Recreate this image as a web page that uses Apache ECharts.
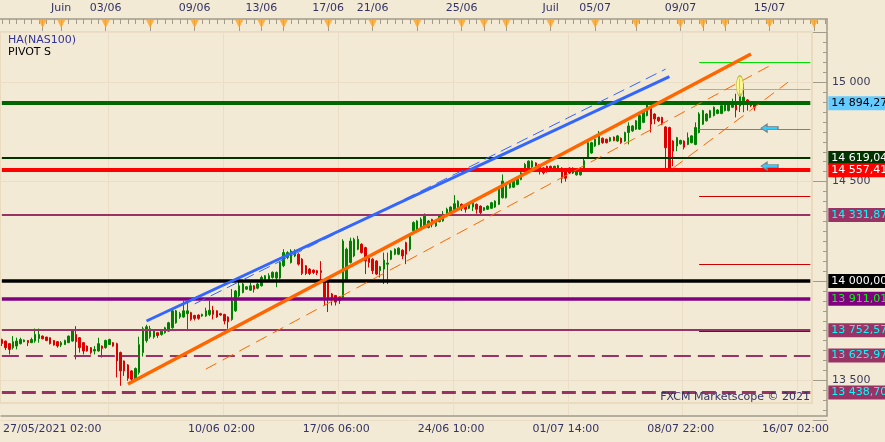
<!DOCTYPE html>
<html>
<head>
<meta charset="utf-8">
<script src="https://cdn.jsdelivr.net/npm/echarts@6/dist/echarts.min.js"></script>
<style>
  html, body { margin: 0; padding: 0; background: #F3EAD5; }
  #chart { width: 885px; height: 442px; }
</style>
</head>
<body>
<div id="chart"></div>
<script>
var FONT = 'DejaVu Sans';
var BG = '#F3EAD5';

// HA(NAS100) 4h candles : [open, close, low, high]
var candles = [
  [13706,13686,13673,13710],[13698,13665,13653,13700],[13685,13656,13631,13688],[13665,13695,13656,13723],
  [13673,13698,13656,13715],[13685,13706,13681,13715],[13695,13703,13692,13706],[13701,13690,13673,13703],
  [13690,13706,13688,13715],[13698,13731,13690,13761],[13711,13731,13690,13761],[13723,13710,13706,13726],
  [13718,13701,13698,13720],[13715,13685,13681,13716],[13701,13678,13675,13703],[13695,13673,13665,13697],
  [13678,13690,13668,13698],[13681,13701,13678,13705],[13690,13723,13688,13726],[13698,13751,13695,13755],
  [13731,13695,13606,13773],[13715,13665,13640,13718],[13690,13648,13631,13693],[13673,13648,13645,13676],
  [13665,13640,13631,13668],[13648,13656,13631,13673],[13648,13685,13645,13715],[13673,13661,13615,13676],
  [13665,13701,13660,13705],[13681,13706,13678,13710],[13690,13673,13670,13693],[13685,13598,13515,13690],
  [13640,13548,13473,13645],[13598,13548,13523,13600],[13578,13511,13498,13582],[13548,13506,13490,13552],
  [13510,13560,13500,13565],[13540,13680,13530,13720],[13640,13760,13620,13770],[13700,13770,13690,13780],
  [13720,13760,13710,13775],[13718,13748,13710,13755],[13740,13726,13714,13743],[13731,13748,13725,13752],
  [13740,13765,13735,13770],[13748,13790,13745,13795],[13765,13850,13760,13858],[13790,13850,13785,13855],
  [13819,13836,13810,13845],[13819,13850,13815,13900],[13836,13850,13748,13892],[13841,13807,13800,13845],
  [13827,13812,13802,13830],[13829,13812,13805,13832],[13824,13832,13820,13836],[13824,13850,13820,13866],
  [13832,13853,13824,13900],[13853,13832,13807,13875],[13850,13819,13815,13853],[13836,13829,13825,13840],
  [13832,13799,13782,13835],[13819,13795,13760,13822],[13807,13900,13800,13960],[13850,13950,13845,13955],
  [13925,13976,13917,14001],[13942,13985,13938,13990],[13959,13971,13955,13975],[13954,13976,13950,13993],
  [13976,13959,13942,13980],[13964,13985,13959,13993],[13976,14018,13972,14027],[14001,14027,13997,14030],
  [14005,14027,14000,14039],[14018,14044,14012,14048],[14015,14043,13969,14048],[14015,14093,14010,14100],
  [14077,14143,14070,14160],[14118,14143,14110,14150],[14093,14151,14088,14160],[14126,14151,14120,14160],
  [14135,14085,14078,14140],[14110,14038,14030,14115],[14077,14038,14030,14080],[14060,14038,14030,14065],
  [14055,14043,14035,14058],[14052,14040,14030,14056],[14052,14043,14010,14100],[14002,13919,13877,14010],
  [14002,13911,13844,14008],[13935,13902,13877,13940],[13927,13894,13877,13930],[13919,13902,13885,13922],
  [13919,14201,13915,14210],[14002,14160,13995,14168],[14093,14201,14088,14218],[14126,14210,14120,14218],
  [14160,14210,14155,14227],[14185,14143,14138,14190],[14168,14101,14035,14172],[14126,14093,14068,14130],
  [14110,14052,14035,14115],[14101,14035,14030,14105],[14052,14072,14018,14076],[14060,14105,13985,14143],
  [14085,14090,13985,14143],[14110,14151,14105,14155],[14135,14160,14130,14164],[14135,14165,14130,14170],
  [14155,14126,14110,14160],[14193,14135,14085,14198],[14160,14230,14150,14240],[14252,14294,14245,14300],
  [14255,14302,14250,14306],[14269,14311,14262,14320],[14277,14327,14270,14340],[14269,14302,14265,14306],
  [14310,14285,14270,14313],[14277,14302,14272,14306],[14299,14327,14295,14330],[14302,14336,14298,14352],
  [14327,14361,14322,14369],[14336,14372,14330,14376],[14352,14389,14348,14432],[14369,14402,14365,14406],
  [14386,14366,14352,14390],[14377,14361,14344,14380],[14366,14386,14362,14390],[14372,14394,14352,14402],
  [14386,14361,14339,14390],[14377,14344,14336,14380],[14356,14369,14352,14372],[14361,14377,14357,14380],
  [14366,14394,14362,14398],[14372,14402,14368,14406],[14386,14461,14382,14465],[14419,14503,14415,14536],
  [14419,14486,14415,14490],[14469,14494,14465,14498],[14472,14503,14468,14507],[14486,14519,14482,14523],
  [14511,14544,14507,14548],[14553,14586,14549,14594],[14569,14603,14565,14607],[14573,14603,14569,14607],
  [14594,14573,14569,14597],[14586,14561,14536,14589],[14569,14544,14536,14572],[14577,14551,14545,14580],
  [14577,14560,14555,14580],[14568,14577,14563,14580],[14565,14580,14560,14584],[14568,14517,14492,14572],
  [14551,14517,14500,14555],[14568,14543,14538,14572],[14543,14568,14538,14572],[14534,14560,14530,14564],
  [14534,14568,14530,14572],[14560,14605,14555,14619],[14619,14696,14615,14704],[14644,14696,14640,14700],
  [14679,14713,14675,14717],[14687,14730,14683,14755],[14718,14696,14690,14722],[14713,14696,14692,14716],
  [14704,14721,14700,14725],[14724,14707,14703,14727],[14704,14730,14700,14734],[14718,14696,14690,14722],
  [14704,14747,14700,14751],[14747,14780,14687,14798],[14755,14780,14750,14784],[14764,14806,14760,14810],
  [14764,14832,14760,14836],[14798,14857,14794,14861],[14832,14891,14828,14905],[14874,14789,14747,14878],
  [14840,14815,14789,14844],[14823,14806,14800,14826],[14823,14789,14784,14826],[14775,14670,14568,14779],
  [14772,14568,14560,14776],[14704,14653,14577,14708],[14679,14721,14653,14725],[14690,14707,14686,14711],
  [14704,14673,14662,14708],[14687,14721,14683,14747],[14696,14730,14692,14734],[14687,14772,14683,14798],
  [14747,14840,14743,14849],[14789,14857,14785,14861],[14806,14840,14802,14844],[14823,14857,14819,14861],
  [14832,14874,14828,14878],[14843,14860,14839,14864],[14843,14882,14839,14886],[14857,14900,14853,14904],
  [14857,14891,14853,14895],[14874,14900,14870,14917],[14900,14860,14823,14942],[14880,14942,14850,15018],
  [14890,14925,14849,14993],[14911,14894,14857,14915],[14900,14882,14875,14904],[14894,14874,14857,14898]
];

// pivot levels with price boxes
var pivotValues = [14894.27, 14619.04, 14557.41, 14331.87, 14000.00, 13911.01, 13752.57, 13625.97, 13438.70];
var pivotColors = ['#006600', '#003300', '#ff0000', '#993366', '#000000', '#800080', '#993366', '#993366', '#993366'];
var pivotBoxes = ['#66ccff', '#003300', '#ff0000', '#993366', '#000000', '#800080', '#993366', '#993366', '#993366'];
var pivotTexts = ['#000000', '#ffffff', '#ffffff', '#00ffff', '#ffffff', '#00ff00', '#00ffff', '#00ffff', '#00ffff'];
var pivotWidths = [4, 2, 4, 2, 3.5, 3.5, 2, 2, 3];
var pivotTypes = ['solid', 'solid', 'solid', 'solid', 'solid', 'solid', 'solid', [17, 7], [14, 6]];

// short levels on the right part
var shortValues = [15101, 14966, 14764, 14428, 14084, 13746];
var shortColors = ['#00dd00', '#33ff33', '#808080', '#cc0000', '#cc0000', '#990000'];

// trend lines : [startIdx, startVal, endIdx, endVal]
var blueLine = [39, 13799, 180, 15028];
var blueDash = [52, 13885, 179, 15066];
var orangeLine = [34, 13482, 202, 15142];
var orangeDash1 = [55, 13557, 208, 15092];
var orangeDash2 = [181, 14568, 212, 15000];

var arrowLevels = [14769, 14578];
var spikeLevel = 14982;

// time axes
var nCats = 223;
var topLabels = ['Juin', '03/06', '09/06', '13/06', '17/06', '21/06', '25/06', 'Juil', '05/07', '09/07', '15/07'];
var topLabelIdx = [16, 28, 52, 70, 88, 100, 124, 148, 160, 183, 207];
var dayMarks = [11, 16, 28, 40, 52, 64, 70, 76, 88, 100, 112, 124, 130, 136, 148, 160, 171, 183, 189, 195, 207, 219];
var bottomLabels = ['27/05/2021 02:00', '10/06 02:00', '17/06 06:00', '24/06 10:00', '01/07 14:00', '08/07 22:00', '16/07 02:00'];
var bottomLabelIdx = [0, 59, 90, 121, 152, 183, 214];

var cats = [], topCats = [], bottomCats = [];
for (var i = 0; i < nCats; i++) { cats.push(String(i)); topCats.push(''); bottomCats.push(''); }
topLabelIdx.forEach(function (k, j) { topCats[k] = topLabels[j]; });
bottomLabelIdx.forEach(function (k, j) { bottomCats[k] = bottomLabels[j]; });

function fmt(v, dec) {
  var s = v.toFixed(dec).split('.');
  var ip = s[0].replace(/\B(?=(\d{3})+(?!\d))/g, ' ');
  return dec ? ip + ',' + s[1] : ip;
}

var lastIdx = 218;
var markLines = [];
pivotValues.forEach(function (v, i) {
  markLines.push([
    { coord: [0, v], lineStyle: { color: pivotColors[i], width: pivotWidths[i], type: pivotTypes[i] },
      label: { show: true, position: 'end', distance: 18, formatter: fmt(v, 2),
        backgroundColor: pivotBoxes[i], color: pivotTexts[i], padding: [2, 3, 1, 3],
        fontSize: 11, fontFamily: FONT } },
    { coord: [lastIdx, v] }
  ]);
});
shortValues.forEach(function (v, i) {
  markLines.push([
    { coord: [188, v], lineStyle: { color: shortColors[i], width: 1.2, type: 'solid' } },
    { coord: [lastIdx, v] }
  ]);
});
function trend(t, color, width, type) {
  markLines.push([
    { coord: [t[0], t[1]], lineStyle: { color: color, width: width, type: type } },
    { coord: [t[2], t[3]] }
  ]);
}
trend(blueDash, '#3366ff', 1, [12, 6]);
trend(blueLine, '#3366ff', 3, 'solid');
trend(orangeDash1, '#ff6600', 1, [12, 7]);
trend(orangeDash2, '#ff6600', 1, [12, 7]);
trend(orangeLine, '#ff6600', 3.5, 'solid');

var arrowPath = 'path://M0,5L7,0L7,3L20,3L20,7L7,7L7,10Z';
var markPoints = arrowLevels.map(function (v) {
  return { coord: [207, v], symbol: arrowPath, symbolSize: [17, 8],
    itemStyle: { color: '#33ccff', borderColor: '#808080', borderWidth: 1 } };
});
markPoints.push({ coord: [199, spikeLevel], symbol: 'circle', symbolSize: [7, 20],
  itemStyle: { color: 'rgba(255,255,120,0.7)', borderColor: '#bdbd4a', borderWidth: 1 } });

var axisCol = '#a29a8a';
var textCol = '#333366';
var bottomTickMinor = [0, 4, 8, 12, 16, 19, 23, 27];
function bottomR(idx) { return ((idx - 29) % 31 + 31) % 31; }

var chart = echarts.init(document.getElementById('chart'), null, { renderer: 'canvas' });

var option = {
  animation: false,
  backgroundColor: BG,
  title: [
    { text: 'HA(NAS100)', subtext: 'PIVOT S', left: 3, top: 30, itemGap: 1,
      textStyle: { fontSize: 11, fontWeight: 'normal', color: '#333399', fontFamily: FONT },
      subtextStyle: { fontSize: 11, color: '#000000', fontFamily: FONT } },
    { text: 'FXCM Marketscope © 2021', right: 70, top: 387,
      textStyle: { fontSize: 11, fontWeight: 'normal', color: textCol, fontFamily: FONT } }
  ],
  grid: [
    { left: 0, width: 827, top: 32.5, bottom: 21.8 },
    { left: 0, width: 827, top: 19, height: 12 },
    { left: 0, width: 827, top: 32, bottom: 26.3 },
    { left: 0, width: 812, top: 32, height: 371, show: true, borderColor: '#eadbbf', borderWidth: 2, backgroundColor: 'transparent' }
  ],
  xAxis: [
    { gridIndex: 0, type: 'category', data: cats, show: false },
    { gridIndex: 1, type: 'category', data: topCats, position: 'top',
      axisLine: { lineStyle: { color: axisCol, width: 1.5 } },
      axisTick: { show: true, inside: true, alignWithLabel: true, length: 5, lineStyle: { color: axisCol, width: 1 },
        interval: function (idx) { return idx % 2 === 0; } },
      axisLabel: { interval: function (idx, v) { return v !== ''; }, margin: 5,
        color: textCol, fontSize: 11, fontFamily: FONT },
      splitLine: { show: false } },
    { gridIndex: 1, type: 'category', data: cats, position: 'top',
      axisLine: { show: false },
      axisTick: { show: true, inside: true, alignWithLabel: true, length: 12, lineStyle: { color: axisCol, width: 1 },
        interval: function (idx) { return dayMarks.indexOf(idx) >= 0; } },
      axisLabel: { show: false }, splitLine: { show: false } },
    { gridIndex: 2, type: 'category', data: cats, position: 'bottom',
      axisLine: { lineStyle: { color: axisCol, width: 1.5 } },
      axisTick: { inside: true, length: 5, lineStyle: { color: axisCol },
        interval: function (idx) { return bottomTickMinor.indexOf(bottomR(idx)) >= 0; } },
      axisLabel: { show: false }, splitLine: { show: false } },
    { gridIndex: 2, type: 'category', data: bottomCats, position: 'bottom',
      axisLine: { show: false },
      axisTick: { inside: true, length: 11, lineStyle: { color: axisCol },
        interval: function (idx) { return bottomR(idx) === 0; } },
      axisLabel: { interval: function (idx, v) { return v !== ''; }, margin: 8, alignMinLabel: 'left',
        color: textCol, fontSize: 11, fontFamily: FONT },
      splitLine: { show: true, interval: function (idx) { return bottomR(idx) === 0; },
        lineStyle: { color: '#ecdec6', width: 1 } } },
    { gridIndex: 3, type: 'category', data: cats, show: false }
  ],
  yAxis: [
    { gridIndex: 0, type: 'value', position: 'right', min: 13300, max: 15250, interval: 50,
      axisLine: { show: false },
      axisTick: { show: true, inside: true, length: 4, lineStyle: { color: axisCol } },
      axisLabel: { margin: 5, color: '#3a3a5a', fontSize: 11, fontFamily: FONT,
        formatter: function (v) { return v % 500 === 0 ? fmt(v, 0) : ''; } },
      splitLine: { show: false } },
    { gridIndex: 0, type: 'value', position: 'right', min: 13300, max: 15250, splitNumber: 4,
      axisLine: { show: false },
      axisTick: { show: true, inside: true, length: 14, lineStyle: { color: axisCol } },
      axisLabel: { show: false },
      splitLine: { show: true, lineStyle: { color: '#ecdec6', width: 1 } } },
    { gridIndex: 1, type: 'value', position: 'right', min: 0, max: 12, inverse: true,
      axisLine: { show: true, lineStyle: { color: axisCol, width: 1.5 } },
      axisTick: { show: false }, axisLabel: { show: false }, splitLine: { show: false } },
    { gridIndex: 2, type: 'value', position: 'right', min: 0, max: 1,
      axisLine: { show: true, lineStyle: { color: axisCol, width: 1.5 } },
      axisTick: { show: false }, axisLabel: { show: false }, splitLine: { show: false } },
    { gridIndex: 3, type: 'value', show: false }
  ],
  series: [
    {
      type: 'candlestick',
      name: 'HA(NAS100)',
      xAxisIndex: 0, yAxisIndex: 0,
      data: candles,
      barWidth: 2,
      itemStyle: { color: '#008000', color0: '#dd0000', borderColor: '#008000', borderColor0: '#dd0000', borderWidth: 1 },
      markLine: { silent: true, symbol: ['none', 'none'], animation: false,
        label: { show: false }, data: markLines },
      markPoint: { silent: true, label: { show: false }, data: markPoints }
    },
    {
      type: 'scatter',
      xAxisIndex: 1, yAxisIndex: 2,
      data: dayMarks.map(function (k) { return [k, 4.5]; }),
      symbol: 'triangle', symbolRotate: 180, symbolSize: [9, 9],
      itemStyle: { color: '#ffa21f' },
      silent: true, z: 5
    }
  ]
};

chart.setOption(option);
</script>
</body>
</html>
